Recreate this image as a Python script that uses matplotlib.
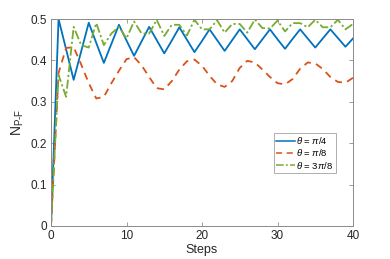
import matplotlib
matplotlib.use("Agg")
import matplotlib.pyplot as plt
import numpy as np

steps = list(range(41))
blue = [0, 0.5, 0.427, 0.353, 0.422, 0.491, 0.442, 0.394, 0.44, 0.486, 0.448,
        0.411, 0.446, 0.481, 0.449, 0.417, 0.448, 0.48, 0.45, 0.42, 0.447,
        0.475, 0.449, 0.423, 0.449, 0.475, 0.451, 0.427, 0.451, 0.475, 0.451,
        0.428, 0.452, 0.475, 0.453, 0.431, 0.453, 0.475, 0.454, 0.433, 0.453]
orange = [0, 0.37, 0.43, 0.432, 0.39, 0.345, 0.308, 0.312, 0.345, 0.375, 0.403,
          0.408, 0.388, 0.36, 0.333, 0.33, 0.35, 0.378, 0.398, 0.402, 0.387,
          0.363, 0.342, 0.336, 0.35, 0.382, 0.399, 0.395, 0.378, 0.36, 0.345,
          0.342, 0.355, 0.38, 0.395, 0.393, 0.379, 0.36, 0.348, 0.346, 0.358]
green = [0, 0.365, 0.312, 0.481, 0.437, 0.431, 0.49, 0.437, 0.465, 0.481, 0.453,
         0.494, 0.465, 0.465, 0.498, 0.459, 0.486, 0.486, 0.46, 0.498, 0.475,
         0.475, 0.497, 0.467, 0.488, 0.488, 0.467, 0.499, 0.478, 0.477, 0.496,
         0.47, 0.49, 0.49, 0.48, 0.498, 0.48, 0.48, 0.498, 0.475, 0.488]
labels = [r'$\theta$ = $\pi$/4', r'$\theta$ = $\pi$/8', r'$\theta$ = 3$\pi$/8']
xticks = [0, 10, 20, 30, 40]
yticks = [0, 0.1, 0.2, 0.3, 0.4, 0.5]

plt.rcParams['font.family'] = ['Liberation Sans', 'DejaVu Sans']
plt.rcParams['mathtext.fontset'] = 'custom'
plt.rcParams['mathtext.rm'] = 'Liberation Sans'
plt.rcParams['mathtext.it'] = 'Liberation Sans:italic'

fig = plt.figure(figsize=(3.9, 2.59), dpi=100)
ax = fig.add_axes([51/390, 1-226/259, (353-51)/390, (226-19)/259])

ax.plot(steps, blue, color='#0072BD', lw=1.3, ls='-', label=labels[0])
ax.plot(steps, orange, color='#D95319', lw=1.3, ls=(0, (4, 3)), label=labels[1])
ax.plot(steps, green, color='#77AC30', lw=1.3, ls=(0, (5, 1.5, 1.2, 1.5)), label=labels[2])

ax.set_xlim(0, 40)
ax.set_ylim(0, 0.5)
ax.set_xticks(xticks)
ax.set_yticks(yticks)
ax.set_xticklabels([str(t) for t in xticks])
ax.set_yticklabels(['0', '0.1', '0.2', '0.3', '0.4', '0.5'])
for s in ax.spines.values():
    s.set_color('#8a8a8a')
    s.set_linewidth(0.7)
ax.tick_params(direction='in', length=3, width=0.6, color='#8a8a8a',
               labelsize=8.5, labelcolor='#262626', top=True, right=True, pad=3)
ax.set_xlabel('Steps', fontsize=9, color='#262626', labelpad=1)
ax.set_ylabel(r'$\mathrm{N_{P\text{-}F}}$', fontsize=10, color='#262626', labelpad=3)

leg = ax.legend(loc='upper left', bbox_to_anchor=((274-51)/302, 1-(133-19)/207),
                fontsize=6.8, frameon=True, fancybox=False, borderpad=0.25,
                handlelength=2.0, handletextpad=0.1, labelspacing=0.12,
                borderaxespad=0)
leg.get_frame().set_edgecolor('#8a8a8a')
leg.get_frame().set_linewidth(0.6)
for line in leg.get_lines():
    line.set_linewidth(1.1)

fig.savefig('out.png', dpi=100)
